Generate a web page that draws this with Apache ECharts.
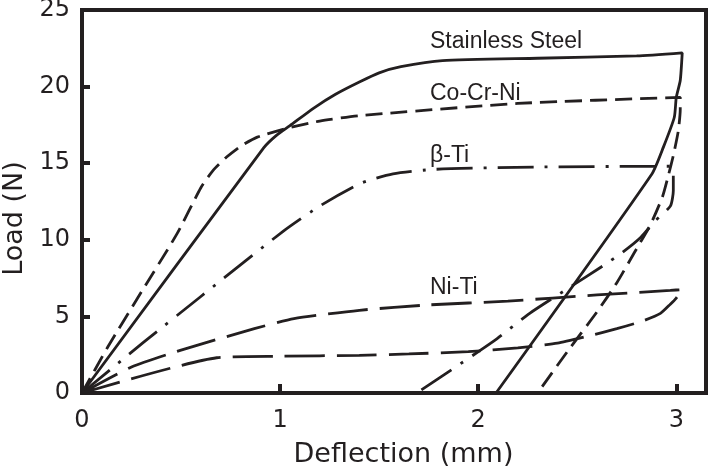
<!DOCTYPE html>
<html>
<head>
<meta charset="utf-8">
<script src="https://cdn.jsdelivr.net/npm/echarts@6/dist/echarts.min.js"></script>
<style>
html,body{margin:0;padding:0;background:#fff;}
#chart{width:711px;height:470px;}
</style>
</head>
<body>
<div id="chart"></div>
<script>
// Load-deflection curves (x: deflection mm, y: load N)
var stainlessSteel = [[0,0],[0.917,16.0],[0.98,16.8],[1.05,17.45],[1.17,18.6],[1.28,19.5],[1.40,20.3],[1.50,20.9],[1.61,21.3],[1.82,21.7],[2.3,21.85],[2.80,22.0],[3.03,22.2],[3.02,20.4],[3.0,19.3],[2.99,18.0],[2.935,16.05],[2.877,14.3],[2.09,0]];
var coCrNi = [[0,0],[0.13,3.0],[0.3,6.6],[0.48,10.4],[0.60,13.4],[0.66,14.5],[0.73,15.4],[0.80,16.1],[0.885,16.7],[1.04,17.3],[1.20,17.75],[1.40,18.1],[2.20,18.9],[3.02,19.3],[3.02,18.5],[3.01,17.1],[2.985,15.5],[2.96,14.2],[2.93,12.8],[2.87,11.0],[2.79,9.2],[2.70,7.2],[2.60,5.3],[2.45,2.7],[2.30,0]];
var betaTi = [[0,0],[0.31,3.3],[0.6,6.3],[1.02,10.6],[1.20,12.2],[1.41,13.7],[1.57,14.3],[1.78,14.6],[2.3,14.75],[2.97,14.8],[2.985,14.2],[2.985,13.2],[2.97,12.2],[2.895,11.25],[2.82,10.15],[2.73,9.2],[2.63,8.3],[2.45,6.8],[2.26,5.2],[2.08,3.4],[1.69,0]];
var niTi = [[0,0],[0.25,1.7],[0.5,2.8],[0.87,4.2],[1.07,4.85],[1.40,5.4],[1.75,5.75],[2.15,6.0],[2.6,6.4],[2.97,6.7],[3.03,6.75],[3.0,6.2],[2.97,5.8],[2.92,5.2],[2.83,4.7],[2.70,4.2],[2.55,3.7],[2.40,3.25],[2.20,2.95],[1.95,2.7],[1.65,2.55],[1.40,2.46],[1.0,2.4],[0.68,2.3],[0,0]];
var seriesNames = ['Stainless Steel','Co-Cr-Ni','β-Ti','Ni-Ti'];
var xTicks = [0,1,2,3];
var yTicks = [0,5,10,15,20,25];

var ink = '#231f20';
var chart = echarts.init(document.getElementById('chart'), null, {renderer:'canvas'});
function mk(name, data, dash){
  return {name:name, type:'line', data:data, showSymbol:false, symbol:'none', smooth:0.2,
    lineStyle:{color:ink, width:2.8, type:dash}, animation:false, z:3};
}
chart.setOption({
  backgroundColor:'#fff',
  animation:false,
  grid:{left:82, right:5, top:10, bottom:77, show:true, borderColor:ink, borderWidth:4, outerBoundsMode:'none', containLabel:false},
  xAxis:{type:'value', min:xTicks[0], max:3.15, interval:1,
    name:'Deflection (mm)', nameLocation:'middle', nameGap:48,
    nameTextStyle:{fontFamily:'DejaVu Sans', fontSize:27, color:ink, padding:[0,0,0,19]},
    axisLine:{show:true, onZero:false, lineStyle:{color:ink, width:4}},
    axisTick:{show:true, inside:true, length:9, lineStyle:{color:ink, width:4}},
    axisLabel:{showMaxLabel:false, fontFamily:'DejaVu Sans', fontSize:24, color:ink, margin:16},
    splitLine:{show:false}},
  yAxis:{type:'value', min:yTicks[0], max:yTicks[yTicks.length-1], interval:5,
    name:'Load (N)', nameLocation:'middle', nameGap:50,
    nameTextStyle:{fontFamily:'DejaVu Sans', fontSize:27, color:ink, padding:[0,34,0,0]},
    axisLine:{show:true, onZero:false, lineStyle:{color:ink, width:4}},
    axisTick:{show:true, inside:true, length:8, lineStyle:{color:ink, width:4}},
    axisLabel:{fontFamily:'DejaVu Sans', fontSize:24, color:ink, margin:12},
    splitLine:{show:false}},
  series:[
    mk(seriesNames[0], stainlessSteel, 'solid'),
    mk(seriesNames[1], coCrNi, [17,8]),
    mk(seriesNames[2], betaTi, [36,11,3,11]),
    mk(seriesNames[3], niTi, [40,12])
  ],
  graphic:[
    {type:'text', x:430, y:42, style:{text:seriesNames[0], font:'23px "Liberation Sans", Arial, sans-serif', fill:ink, align:'left', verticalAlign:'middle'}},
    {type:'text', x:430, y:94, style:{text:seriesNames[1], font:'23px "Liberation Sans", Arial, sans-serif', fill:ink, align:'left', verticalAlign:'middle'}},
    {type:'text', x:430, y:156, style:{text:seriesNames[2], font:'23px "Liberation Sans", Arial, sans-serif', fill:ink, align:'left', verticalAlign:'middle'}},
    {type:'text', x:430, y:288, style:{text:seriesNames[3], font:'23px "Liberation Sans", Arial, sans-serif', fill:ink, align:'left', verticalAlign:'middle'}}
  ]
});
</script>
</body>
</html>
